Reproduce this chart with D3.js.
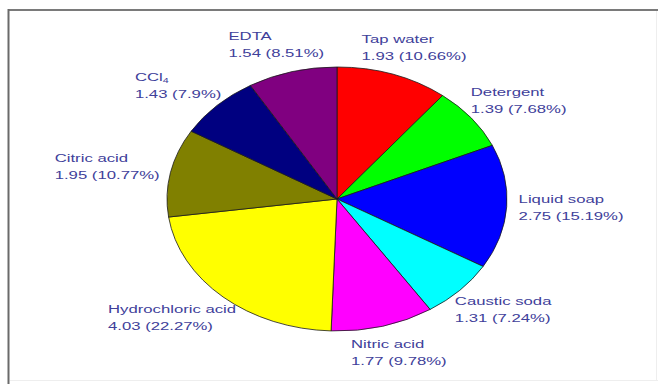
<!DOCTYPE html>
<html>
<head>
<meta charset="utf-8">
<script src="https://cdn.jsdelivr.net/npm/d3@7/dist/d3.min.js"></script>
<style>
  html, body { margin: 0; padding: 0; background: #fff; }
  svg { display: block; }
</style>
</head>
<body>
<svg id="chart" width="658" height="384"></svg>
<script>
// Cleaning agents and the amount measured for each
const categories = ["Tap water", "Detergent", "Liquid soap", "Caustic soda", "Nitric acid",
                    "Hydrochloric acid", "Citric acid", "CCl4", "EDTA"];
const values = [1.93, 1.39, 2.75, 1.31, 1.77, 4.03, 1.95, 1.43, 1.54];
const colors = ["#ff0000", "#00ff00", "#0000ff", "#00ffff", "#ff00ff",
                "#ffff00", "#808000", "#000080", "#800080"];

const width = 658, height = 384;
const cx = 337, cy = 199;        // pie centre
const rx = 170, ry = 132;        // elliptical pie radii
const textScaleX = 1.52;         // labels are drawn horizontally stretched
const labelColor = "#40409a";

const svg = d3.select("#chart");

// frame
svg.append("rect").attr("x", 0).attr("y", 0).attr("width", width).attr("height", height).attr("fill", "#fff");
svg.append("line").attr("x1", 8).attr("x2", width).attr("y1", 10).attr("y2", 10)
  .attr("stroke", "#7a7a7a").attr("stroke-width", 2);
svg.append("line").attr("x1", 8.5).attr("x2", 8.5).attr("y1", 9).attr("y2", height)
  .attr("stroke", "#6a6a6a").attr("stroke-width", 2);
svg.append("line").attr("x1", 10).attr("x2", width).attr("y1", 380.5).attr("y2", 380.5)
  .attr("stroke", "#eeeeee").attr("stroke-width", 1);
svg.append("line").attr("x1", 656.5).attr("x2", 656.5).attr("y1", 11).attr("y2", 381)
  .attr("stroke", "#eeeeee").attr("stroke-width", 1);

const total = d3.sum(values);
const slices = d3.pie().sort(null).value(d => d)(values);
const arc = d3.arc().innerRadius(0).outerRadius(ry);

// pie wedges, squashed into an ellipse
const pieG = svg.append("g").attr("transform", `translate(${cx},${cy}) scale(${rx / ry},1)`);
pieG.selectAll("path")
  .data(slices)
  .join("path")
  .attr("d", arc)
  .attr("fill", (d, i) => colors[i])
  .attr("stroke", "#1a1a1a")
  .attr("stroke-width", 0.8)
  .attr("vector-effect", "non-scaling-stroke");

// labels: name on the first line, value and share on the second
const fmtPct = v => String(+(v / total * 100).toFixed(2));
const labelRx = 182, labelRy = 160, lineGap = 17;

slices.forEach((s, i) => {
  const name = categories[i];
  const t = svg.append("text")
    .attr("font-family", "'Liberation Sans', Arial, sans-serif")
    .attr("font-size", 11)
    .attr("fill", labelColor);

  const l1 = t.append("tspan").attr("x", 0).attr("y", 0);
  const m = name.match(/^([A-Za-z]+)(\d+)$/);
  if (m) {
    l1.text(m[1]);
    t.append("tspan").attr("font-size", 7).attr("dy", 2).text(m[2]);
  } else {
    l1.text(name);
  }
  t.append("tspan").attr("x", 0).attr("y", lineGap)
    .text(`${values[i]} (${fmtPct(values[i])}%)`);

  const w = t.node().getBBox().width * textScaleX;
  const a = (s.startAngle + s.endAngle) / 2;
  const centerX = cx + (labelRx + w / 2) * Math.sin(a);
  const centerY = cy - labelRy * Math.cos(a);
  t.attr("transform", `translate(${centerX - w / 2},${centerY - 5}) scale(${textScaleX},1)`);
});
</script>
</body>
</html>
